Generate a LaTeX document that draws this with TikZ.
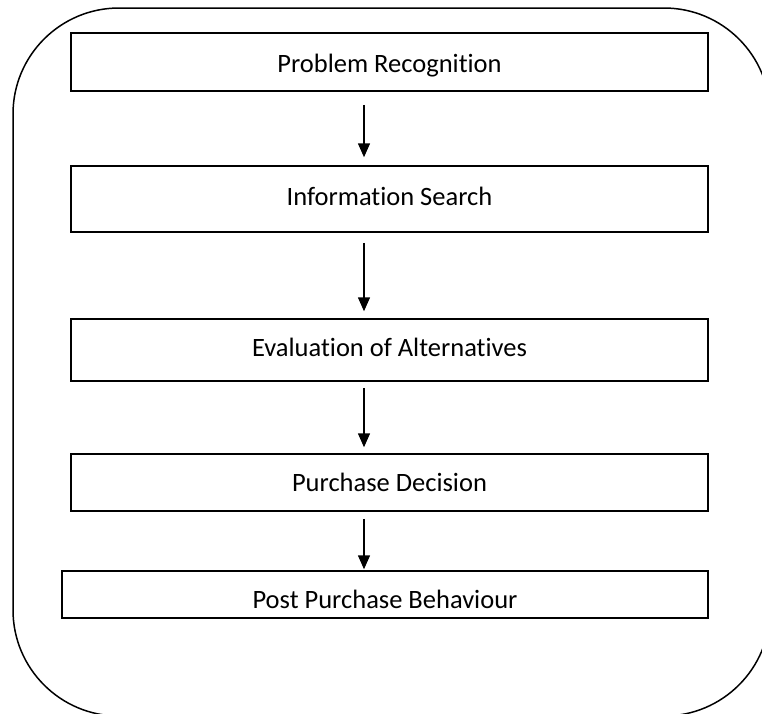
\documentclass[tikz,border=0pt]{standalone}
\usepackage{fontspec}
\setmainfont{Carlito}[Ligatures=NoCommon]
\usetikzlibrary{arrows.meta}
\begin{document}
\begin{tikzpicture}[x=1pt,y=-1pt,
  stage/.style={draw=black, line width=1.5pt, rectangle, inner sep=0pt,
    font=\fontsize{26.5}{30}\selectfont, anchor=center,
    text height=18pt, text depth=1pt},
  flow/.style={line width=1.5pt, -{Triangle[width=12pt,length=14pt]}}]
  \useasboundingbox (0,0) rectangle (762,713);
  % surrounding frame with rounded corners
  \draw[line width=1.5pt, rounded corners=106pt] (13,8) rectangle (770,716);
  % stages of the buying process
  \node[stage, minimum width=637pt, minimum height=58pt, text height=21pt] (b1) at (389.5,62) {Problem Recognition};
  \node[stage, minimum width=637pt, minimum height=66pt, text height=14pt] (b2) at (389.5,199) {Information Search};
  \node[stage, minimum width=637pt, minimum height=62pt, text height=13pt] (b3) at (389.5,350) {Evaluation of Alternatives};
  \node[stage, minimum width=637pt, minimum height=57pt] (b4) at (389.5,482.5) {Purchase Decision};
  \node[stage, minimum width=646pt, minimum height=47pt, text height=28pt] (b5) at (385,594.5) {Post Purchase Behaviour};
  % arrows between the stages
  \draw[flow, shorten <=13pt, shorten >=8pt] ([xshift=-25.5pt]b1.south) -- ([xshift=-25.5pt]b2.north);
  \draw[flow, shorten <=10pt, shorten >=7pt] ([xshift=-25.5pt]b2.south) -- ([xshift=-25.5pt]b3.north);
  \draw[flow, shorten <=6pt, shorten >=6pt] ([xshift=-25.5pt]b3.south) -- ([xshift=-25.5pt]b4.north);
  \draw[flow, shorten <=7pt, shorten >=1pt] ([xshift=-25.5pt]b4.south) -- ([xshift=-25.5pt]b4.south |- b5.north);
\end{tikzpicture}
\end{document}
